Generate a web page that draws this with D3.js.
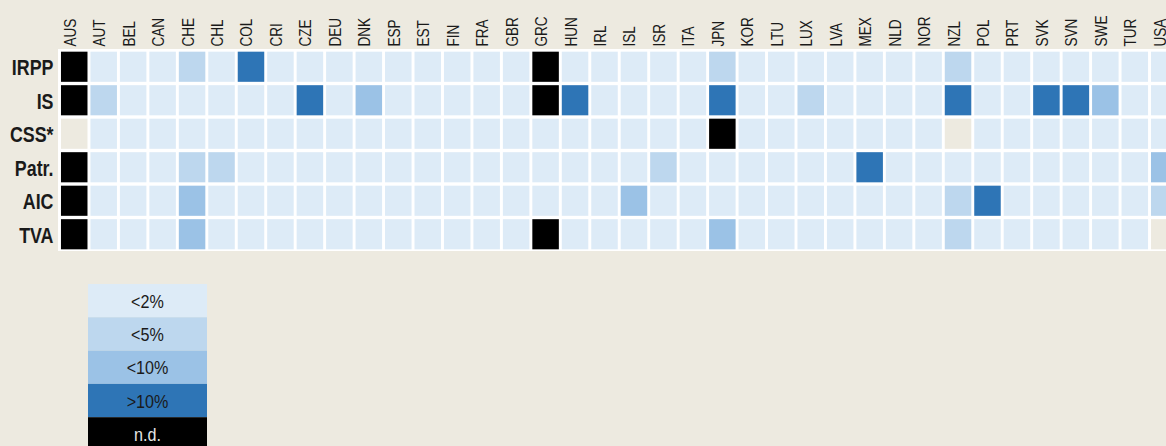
<!DOCTYPE html>
<html>
<head>
<meta charset="utf-8">
<script src="https://cdn.jsdelivr.net/npm/d3@7"></script>
<style>
  html, body { margin: 0; padding: 0; background: #edeae0; overflow: hidden; }
  svg { display: block; }
  text { font-family: 'Liberation Sans', Arial, sans-serif; }
</style>
</head>
<body>
<div id="chart"></div>
<script>
const countries = ['AUS', 'AUT', 'BEL', 'CAN', 'CHE', 'CHL', 'COL', 'CRI', 'CZE', 'DEU',
  'DNK', 'ESP', 'EST', 'FIN', 'FRA', 'GBR', 'GRC', 'HUN', 'IRL', 'ISL',
  'ISR', 'ITA', 'JPN', 'KOR', 'LTU', 'LUX', 'LVA', 'MEX', 'NLD', 'NOR',
  'NZL', 'POL', 'PRT', 'SVK', 'SVN', 'SWE', 'TUR', 'USA']
const taxes = ['IRPP', 'IS', 'CSS*', 'Patr.', 'AIC', 'TVA']
const levels = ['<2%', '<5%', '<10%', '>10%', 'n.d.']

// 0 = <2%, 1 = <5%, 2 = <10%, 3 = >10%, 4 = n.d., null = no cell
const irpp = [4, 0, 0, 0, 1, 0, 3, 0, 0, 0, 0, 0, 0, 0, 0, 0, 4, 0, 0, 0,
  0, 0, 1, 0, 0, 0, 0, 0, 0, 0, 1, 0, 0, 0, 0, 0, 0, 0]
const is = [4, 1, 0, 0, 0, 0, 0, 0, 3, 0, 2, 0, 0, 0, 0, 0, 4, 3, 0, 0,
  0, 0, 3, 0, 0, 1, 0, 0, 0, 0, 3, 0, 0, 3, 3, 2, 0, 0]
const css = [null, 0, 0, 0, 0, 0, 0, 0, 0, 0, 0, 0, 0, 0, 0, 0, 0, 0, 0, 0,
  0, 0, 4, 0, 0, 0, 0, 0, 0, 0, null, 0, 0, 0, 0, 0, 0, 0]
const patr = [4, 0, 0, 0, 1, 1, 0, 0, 0, 0, 0, 0, 0, 0, 0, 0, 0, 0, 0, 0,
  1, 0, 0, 0, 0, 0, 0, 3, 0, 0, 0, 0, 0, 0, 0, 0, 0, 2]
const aic = [4, 0, 0, 0, 2, 0, 0, 0, 0, 0, 0, 0, 0, 0, 0, 0, 0, 0, 0, 2,
  0, 0, 0, 0, 0, 0, 0, 0, 0, 0, 1, 3, 0, 0, 0, 0, 0, 1]
const tva = [4, 0, 0, 0, 2, 0, 0, 0, 0, 0, 0, 0, 0, 0, 0, 0, 4, 0, 0, 0,
  0, 0, 2, 0, 0, 0, 0, 0, 0, 0, 1, 0, 0, 0, 0, 0, 0, null]

const rows = [irpp, is, css, patr, aic, tva]

const width = 1166
const height = 446
const bg = '#edeae0'
// no narrow font installed, so squeeze the regular one
const narrow = 0.85

const svg = d3.select('#chart')
  .append('svg')
  .attr('width', width)
  .attr('height', height)

svg.append('rect')
  .attr('width', width)
  .attr('height', height)
  .attr('fill', bg)

const x = d3.scaleBand()
  .domain(countries)
  .range([59.5, 59.5 + 29.46 * countries.length])
  .paddingInner(0.1)
  .paddingOuter(0.05)

const y = d3.scaleBand()
  .domain(taxes)
  .range([50, 251])
  .paddingInner(0.1)
  .paddingOuter(0.05)

const color = d3.scaleOrdinal()
  .domain(d3.range(levels.length))
  .range(['#ddebf7', '#bdd7ee', '#9bc2e6', '#2e75b6', '#000000'])

// white grid behind the cells
svg.append('rect')
  .attr('x', 58)
  .attr('y', 49)
  .attr('width', width - 58)
  .attr('height', 202)
  .attr('fill', '#ffffff')

const cells = []
taxes.forEach((t, i) => {
  rows[i].forEach((v, j) => {
    cells.push({ tax: t, country: countries[j], value: v })
  })
})

svg.append('g')
  .selectAll('rect')
  .data(cells)
  .enter()
  .append('rect')
  .attr('x', d => x(d.country))
  .attr('y', d => y(d.tax))
  .attr('width', x.bandwidth())
  .attr('height', y.bandwidth())
  .attr('fill', d => d.value === null ? bg : color(d.value))

// column labels
svg.append('g')
  .selectAll('text')
  .data(countries)
  .enter()
  .append('text')
  .attr('transform', d => `translate(${x(d) + x.bandwidth() / 2 + 1.5},46.5) rotate(-90) scale(${narrow},1)`)
  .attr('text-anchor', 'start')
  .attr('font-size', 16)
  .attr('fill', '#1a1a1a')
  .text(d => d)

// row labels
svg.append('g')
  .selectAll('text')
  .data(taxes)
  .enter()
  .append('text')
  .attr('transform', d => `translate(53.5,${y(d) + y.bandwidth() / 2 + 8.5}) scale(0.83,1)`)
  .attr('text-anchor', 'end')
  .attr('font-size', 21.5)
  .attr('font-weight', 'bold')
  .attr('fill', '#1a1a1a')
  .text(d => d)

// legend
const ly = d3.scaleBand()
  .domain(levels)
  .range([284, 284 + 33.3 * levels.length])

const legend = svg.append('g')
  .selectAll('g')
  .data(levels)
  .enter()
  .append('g')
  .attr('transform', d => `translate(88,${ly(d)})`)

legend.append('rect')
  .attr('width', 119)
  .attr('height', ly.bandwidth())
  .attr('fill', (d, i) => color(i))

legend.append('text')
  .attr('transform', `translate(59.5,${ly.bandwidth() / 2 + 7}) scale(${narrow},1)`)
  .attr('text-anchor', 'middle')
  .attr('font-size', 19)
  .attr('fill', (d, i) => i === 4 ? '#e6e6e6' : '#1a1a1a')
  .text(d => d)
</script>
</body>
</html>
